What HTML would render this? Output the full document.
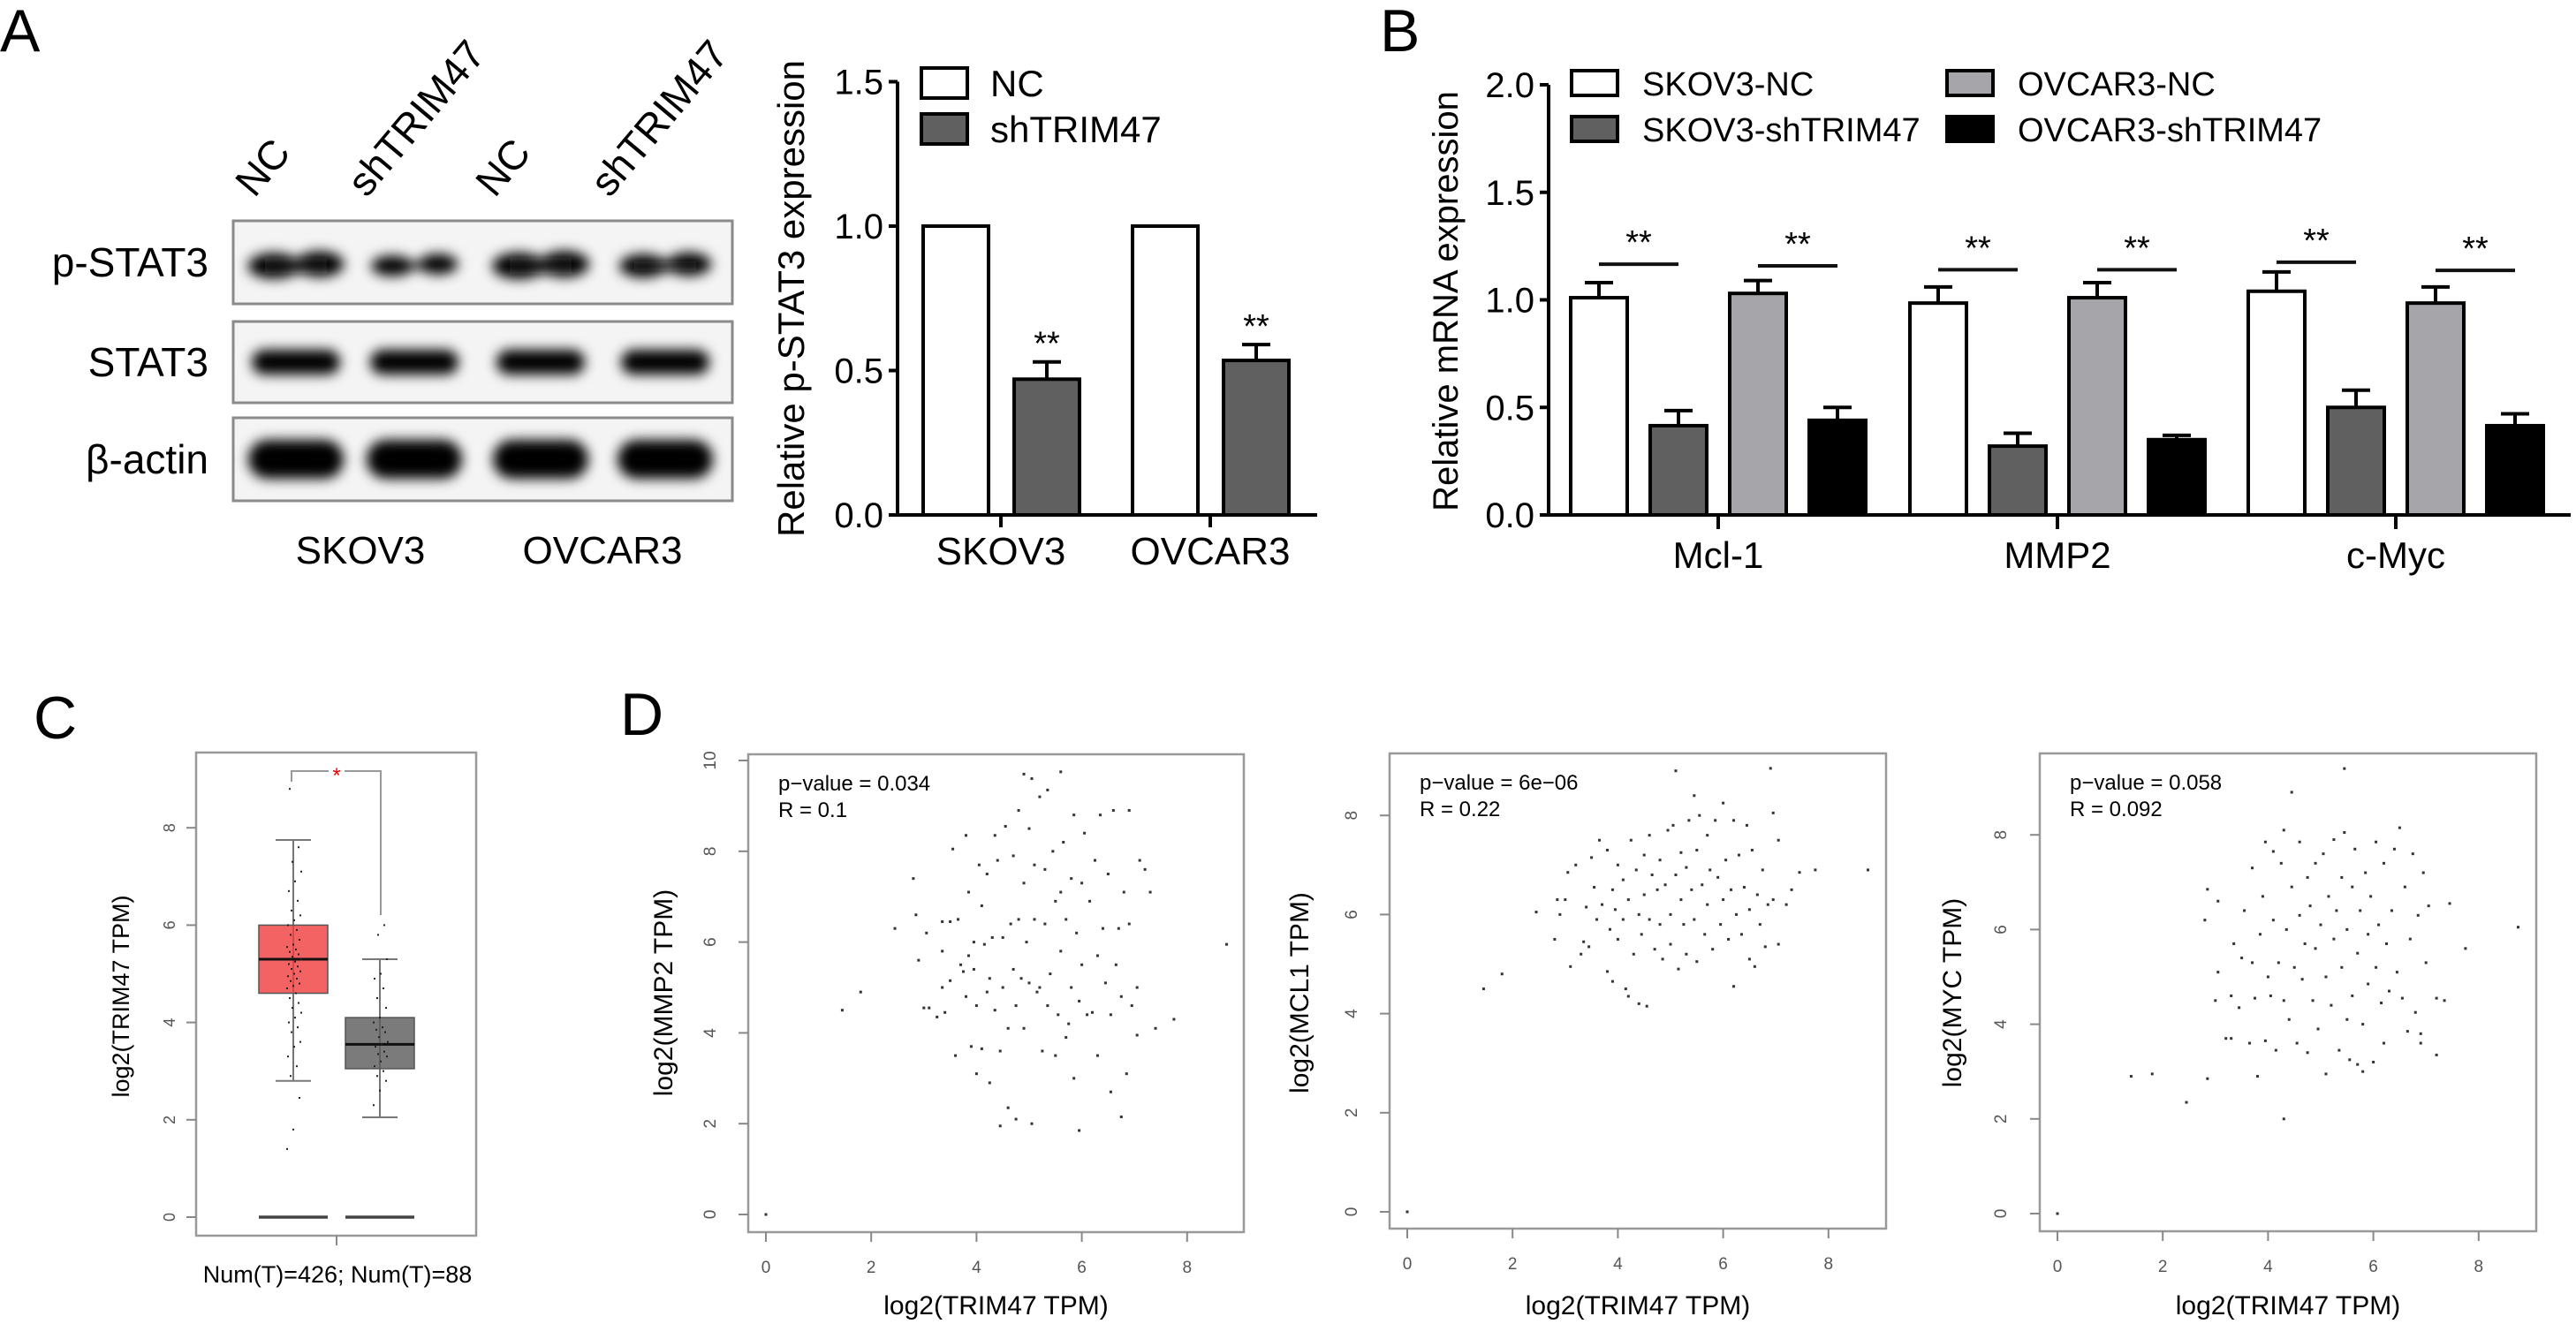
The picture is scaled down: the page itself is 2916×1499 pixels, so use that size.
<!DOCTYPE html>
<html><head><meta charset="utf-8">
<style>
html,body{margin:0;padding:0;background:#fff;}
svg{display:block;font-family:"Liberation Sans",Arial,sans-serif;}
</style></head>
<body>
<svg id="fig" width="2916" height="1499" viewBox="0 0 2916 1499" xmlns="http://www.w3.org/2000/svg">
<defs>
<filter id="blur" x="-30%" y="-80%" width="160%" height="260%"><feGaussianBlur stdDeviation="7"/></filter>
</defs>
<rect x="0" y="0" width="2916" height="1499" fill="#fff"/>
<text x="0" y="58" font-size="68">A</text>
<text x="1562" y="58" font-size="68">B</text>
<text x="38" y="836" font-size="68">C</text>
<text x="702" y="832" font-size="68">D</text>
<g id="gBlot"></g>
<g id="gA"></g>
<g id="gB"></g>
<g id="gC"></g>
<g id="gD"></g>
</svg>
<script>
// ---------- data ----------
const blotRows = ['p-STAT3','STAT3','β-actin'];
const blotLanes = ['NC','shTRIM47','NC','shTRIM47'];
const blotCells = ['SKOV3','OVCAR3'];
const bandPSTAT3 = [0.95,0.5,1.0,0.75];
const bandSTAT3 = [0.85,0.85,0.85,0.85];
const bandActin = [1.0,1.0,1.0,1.0];

const aCategories = ['SKOV3','OVCAR3'];
const aNC = [1.0,1.0];
const aSh = [0.47,0.535];
const aShErr = [0.06,0.055];
const aTicks = ['0.0','0.5','1.0','1.5'];

const bCategories = ['Mcl-1','MMP2','c-Myc'];
const bSeriesNames = ['SKOV3-NC','SKOV3-shTRIM47','OVCAR3-NC','OVCAR3-shTRIM47'];
const bSkovNC = [1.01,0.985,1.04];
const bSkovSh = [0.415,0.32,0.5];
const bOvNC = [1.03,1.01,0.985];
const bOvSh = [0.44,0.35,0.415];
const bSkovNCErr = [0.07,0.075,0.09];
const bSkovShErr = [0.07,0.06,0.08];
const bOvNCErr = [0.06,0.07,0.075];
const bOvShErr = [0.06,0.02,0.055];
const bSigSkov = [1.166,1.14,1.175];
const bSigOv = [1.158,1.14,1.137];
const bTicks = ['0.0','0.5','1.0','1.5','2.0'];

const cTumorStats = [2.8,4.6,5.3,6.0,7.75];
const cNormalStats = [2.05,3.05,3.55,4.1,5.3];
const cTumorPts = [1.4,1.8,2.45,2.9,3.1,3.3,3.5,3.6,3.8,3.9,4.0,4.1,4.2,4.3,4.4,4.5,4.6,4.7,4.75,4.8,4.85,4.9,4.95,5.0,5.05,5.1,5.15,5.2,5.25,5.3,5.35,5.4,5.45,5.5,5.55,5.6,5.7,5.8,5.9,6.0,6.1,6.2,6.3,6.5,6.7,6.9,7.1,7.3,7.6,8.8];
const cNormalPts = [2.3,2.6,2.8,2.9,3.0,3.1,3.2,3.3,3.35,3.4,3.5,3.55,3.6,3.7,3.8,3.85,3.9,4.0,4.1,4.3,4.5,4.7,4.9,5.0,5.3,5.8,6.0];
const cTicks = ['0','2','4','6','8'];

const dTitles = ['log2(MMP2 TPM)','log2(MCL1 TPM)','log2(MYC TPM)'];
const dPvals = ['p\u2212value = 0.034','p\u2212value = 6e\u221206','p\u2212value = 0.058'];
const dRvals = ['R = 0.1','R = 0.22','R = 0.092'];
const dMMP2 = [[0,0],[1.45,4.5],[1.8,4.9],[2.45,6.3],[2.8,7.4],[2.85,6.6],[2.9,5.6],[3.05,6.2],[3.0,4.55],[3.1,4.55],[3.25,4.35],[3.35,6.45],[3.35,5.8],[3.35,5.0],[3.4,4.45],[3.5,6.45],[3.5,5.15],[3.55,8.05],[3.6,3.5],[3.65,6.5],[3.7,5.5],[3.75,5.35],[3.8,4.8],[3.8,8.35],[3.85,7.1],[3.85,5.7],[3.9,3.7],[3.95,6.0],[3.95,5.4],[4.0,3.1],[4.0,4.6],[4.05,7.7],[4.1,6.8],[4.1,3.65],[4.15,5.95],[4.2,4.9],[4.2,7.5],[4.25,2.9],[4.25,5.2],[4.3,6.1],[4.35,8.35],[4.35,4.5],[4.4,7.8],[4.45,3.6],[4.45,1.95],[4.5,6.1],[4.5,5.0],[4.55,8.55],[4.6,4.1],[4.6,2.35],[4.65,6.4],[4.7,7.9],[4.7,5.4],[4.75,2.1],[4.75,4.6],[4.8,8.9],[4.8,6.5],[4.85,5.2],[4.9,9.7],[4.9,7.3],[4.9,4.1],[4.95,6.0],[5.0,8.5],[5.0,5.1],[5.05,9.6],[5.05,2.0],[5.1,7.7],[5.1,6.5],[5.15,4.9],[5.2,9.2],[5.2,5.0],[5.25,3.6],[5.3,7.6],[5.3,6.4],[5.35,9.35],[5.35,4.6],[5.4,5.3],[5.45,8.0],[5.5,3.5],[5.5,6.9],[5.55,4.4],[5.6,9.75],[5.6,7.1],[5.6,5.8],[5.65,8.2],[5.7,3.9],[5.7,6.5],[5.75,4.2],[5.8,7.4],[5.8,5.0],[5.85,8.8],[5.85,3.0],[5.9,6.2],[5.95,1.85],[5.95,4.7],[6.0,7.3],[6.0,5.5],[6.05,8.4],[6.1,4.4],[6.15,6.9],[6.2,4.45],[6.25,7.8],[6.3,3.5],[6.3,5.7],[6.35,8.8],[6.4,6.3],[6.45,5.1],[6.5,7.5],[6.55,4.4],[6.55,2.7],[6.6,8.9],[6.65,5.5],[6.7,6.3],[6.75,4.8],[6.75,2.15],[6.8,7.1],[6.85,3.1],[6.9,8.9],[6.9,6.4],[6.95,4.6],[7.05,5.0],[7.05,3.95],[7.1,7.8],[7.2,7.6],[7.3,7.1],[7.4,4.1],[7.75,4.3],[8.75,5.95]];
const dMCL1 = [[0,0],[1.45,4.5],[1.8,4.8],[2.45,6.05],[2.8,5.5],[2.85,6.3],[2.9,6.0],[3.0,6.3],[3.05,6.85],[3.1,4.95],[3.2,7.0],[3.3,5.2],[3.35,5.45],[3.4,6.15],[3.45,5.35],[3.5,7.15],[3.55,6.55],[3.6,5.9],[3.65,7.5],[3.7,6.2],[3.8,4.85],[3.8,7.3],[3.85,5.7],[3.9,4.65],[3.9,6.5],[3.95,6.1],[4.0,7.0],[4.0,5.5],[4.1,6.7],[4.1,5.9],[4.15,4.5],[4.2,6.3],[4.2,4.35],[4.25,7.5],[4.3,5.2],[4.35,6.9],[4.4,4.2],[4.4,6.0],[4.45,5.6],[4.5,7.2],[4.5,6.4],[4.55,4.15],[4.6,5.9],[4.6,7.6],[4.65,6.8],[4.7,5.3],[4.75,6.5],[4.8,7.1],[4.8,5.8],[4.85,5.1],[4.9,6.6],[4.95,7.7],[5.0,6.0],[5.0,5.4],[5.05,7.8],[5.1,8.9],[5.1,6.8],[5.15,4.9],[5.2,6.3],[5.2,7.25],[5.25,5.8],[5.3,6.95],[5.3,5.2],[5.35,7.9],[5.4,6.5],[5.45,8.4],[5.45,5.9],[5.5,7.3],[5.5,5.05],[5.55,8.0],[5.6,6.6],[5.65,5.6],[5.7,7.6],[5.7,6.2],[5.75,6.9],[5.8,5.3],[5.85,7.9],[5.9,6.75],[5.95,5.8],[6.0,8.25],[6.0,6.3],[6.05,7.1],[6.1,5.5],[6.15,6.5],[6.2,7.9],[6.2,4.55],[6.25,6.0],[6.3,7.2],[6.35,5.6],[6.4,6.55],[6.45,7.8],[6.5,6.1],[6.5,5.1],[6.55,7.3],[6.6,4.95],[6.65,6.4],[6.7,5.8],[6.75,6.9],[6.8,5.35],[6.85,6.2],[6.9,8.95],[6.95,8.05],[6.95,6.3],[7.05,5.4],[7.05,7.5],[7.2,6.2],[7.3,6.5],[7.45,6.85],[7.75,6.9],[8.75,6.9]];
const dMYC = [[0,0],[1.4,2.9],[1.8,2.95],[2.45,2.35],[2.8,6.2],[2.85,6.85],[2.85,2.85],[3.0,4.5],[3.05,6.6],[3.05,5.1],[3.2,3.7],[3.3,3.7],[3.3,4.6],[3.35,5.7],[3.45,4.35],[3.5,5.4],[3.55,6.4],[3.65,3.6],[3.7,5.3],[3.7,7.3],[3.75,4.55],[3.8,2.9],[3.85,5.9],[3.9,6.7],[3.95,3.65],[3.95,7.85],[4.0,5.0],[4.05,4.6],[4.1,7.65],[4.1,6.2],[4.15,3.45],[4.2,5.3],[4.25,7.4],[4.3,4.5],[4.3,2.0],[4.3,8.1],[4.35,6.0],[4.4,4.1],[4.45,8.9],[4.45,6.9],[4.5,5.2],[4.55,3.6],[4.6,7.85],[4.6,6.3],[4.65,4.95],[4.7,5.7],[4.75,7.1],[4.75,3.4],[4.8,6.5],[4.85,4.5],[4.9,7.4],[4.9,5.6],[4.95,3.9],[5.0,6.1],[5.05,7.6],[5.1,5.0],[5.1,2.95],[5.15,6.7],[5.2,4.4],[5.25,7.9],[5.25,5.8],[5.3,6.4],[5.35,3.45],[5.4,5.2],[5.4,7.1],[5.45,9.4],[5.45,8.05],[5.5,4.1],[5.5,6.0],[5.55,3.25],[5.6,6.9],[5.6,4.6],[5.65,7.7],[5.7,5.5],[5.7,3.15],[5.75,6.4],[5.8,4.0],[5.8,3.0],[5.85,7.2],[5.9,5.9],[5.9,4.85],[5.95,6.7],[6.0,3.2],[6.05,7.85],[6.05,5.2],[6.1,6.1],[6.15,4.45],[6.2,7.4],[6.2,3.6],[6.25,5.7],[6.3,4.7],[6.35,6.4],[6.4,7.7],[6.45,5.1],[6.5,8.15],[6.55,4.55],[6.6,6.9],[6.65,3.85],[6.7,5.8],[6.75,7.6],[6.8,4.25],[6.85,6.3],[6.9,3.6],[6.9,3.8],[6.95,7.2],[7.0,5.3],[7.05,6.5],[7.2,3.35],[7.2,4.55],[7.35,4.5],[7.45,6.55],[7.75,5.6],[8.75,6.05]];
const dXTicks = ['0','2','4','6','8'];
const dYTicks1 = ['0','2','4','6','8','10'];
const dYTicks23 = ['0','2','4','6','8'];

// ---------- helpers ----------
const NS='http://www.w3.org/2000/svg';
function mk(parent, tag, attrs, txt){
  const el=document.createElementNS(NS,tag);
  for(const k in attrs) el.setAttribute(k,attrs[k]);
  if(txt!==undefined) el.textContent=txt;
  parent.appendChild(el);
  return el;
}
const gBlot=document.getElementById('gBlot');
const gA=document.getElementById('gA');
const gB=document.getElementById('gB');
const gC=document.getElementById('gC');
const gD=document.getElementById('gD');

// ---------- Western blot ----------
const blotBoxes=[[250,344],[364,456],[473,567]];
const laneX=[335,469,612,753];
const bandSets=[bandPSTAT3,bandSTAT3,bandActin];
blotRows.forEach((name,r)=>{
  const [t,b]=blotBoxes[r];
  const box=mk(gBlot,'rect',{x:264,y:t,width:565,height:b-t,fill:'#f4f4f4',stroke:'#8a8a8a','stroke-width':3});
  
  
  const lab=mk(gBlot,'text',{x:236,y:(t+b)/2+16,'text-anchor':'end','font-size':46},name);
  
  
  bandSets[r].forEach((s,i)=>{
    const cy=(t+b)/2+ (r===0?4:(r===2?0:0));
    const h=(r===2?44:30)*(0.55+0.45*s);
    const w=(r===2?108:100);
    const band=mk(gBlot,'g',{filter:'url(#blur)'});
    
    
    if(r===0){
      mk(band,'ellipse',{cx:laneX[i]-w*0.25,cy:cy,rx:w*0.3*(0.6+0.4*s),ry:h/2,fill:'#000'});
      mk(band,'ellipse',{cx:laneX[i]+w*0.27,cy:cy-2,rx:w*0.28*(0.6+0.4*s),ry:h/2,fill:'#000'});
      mk(band,'rect',{x:laneX[i]-w*0.35,y:cy-h*0.3*s,width:w*0.7,height:h*0.6*s,fill:'#111'});
    } else {
      mk(band,'rect',{x:laneX[i]-w/2,y:cy-h/2,width:w,height:h,rx:h/2,fill:'#000'});
    }
  });
});
blotLanes.forEach((name,i)=>{
  const bx=[288,415,560,690][i];
  const t=mk(gBlot,'text',{x:bx,y:225,'font-size':46,transform:'rotate(-50 '+bx+' 225)'},name);
  
  
});
blotCells.forEach((name,i)=>{
  const t=mk(gBlot,'text',{x:[408,682][i],y:638,'text-anchor':'middle','font-size':44},name);
  
  
});

// ---------- Chart A ----------
const aY0=583, aPx=327;
function yA(v){return aY0-v*aPx;}
const aGroupX=[1133,1370];
const axA=mk(gA,'path',{d:'M1016 '+yA(1.5)+' V'+aY0+' H1491',stroke:'#000','stroke-width':4,fill:'none'});


aTicks.forEach((t,i)=>{
  const v=parseFloat(t);
  const tk=mk(gA,'line',{x1:1006,x2:1016,y1:yA(v),y2:yA(v),stroke:'#000','stroke-width':4});
  
  
  const tl=mk(gA,'text',{x:1000,y:yA(v)+14,'text-anchor':'end','font-size':40},t);
  
  
});
const aTitle=mk(gA,'text',{x:910,y:338,'text-anchor':'middle','font-size':42,transform:'rotate(-90 910 338)'},'Relative p-STAT3 expression');


aCategories.forEach((c,i)=>{
  const gx=aGroupX[i];
  const tk=mk(gA,'line',{x1:gx,x2:gx,y1:aY0,y2:aY0+14,stroke:'#000','stroke-width':4});
  
  
  const tl=mk(gA,'text',{x:gx,y:639,'text-anchor':'middle','font-size':44},c);
  
  
  const b1=mk(gA,'rect',{x:gx-88,y:yA(aNC[i]),width:74,height:aY0-yA(aNC[i]),fill:'#fff',stroke:'#000','stroke-width':4});
  
  
  const b2=mk(gA,'rect',{x:gx+15,y:yA(aSh[i]),width:74,height:aY0-yA(aSh[i]),fill:'#606060',stroke:'#000','stroke-width':4});
  
  
  const cx=gx+52, top=yA(aSh[i]+aShErr[i]);
  const e=mk(gA,'path',{d:'M'+cx+' '+yA(aSh[i])+' V'+top+' M'+(cx-16)+' '+top+' H'+(cx+16),stroke:'#000','stroke-width':4});
  
  
  const s=mk(gA,'text',{x:cx,y:top-8,'text-anchor':'middle','font-size':38},'**');
  
  
});
[['NC','#fff',77],['shTRIM47','#606060',129]].forEach(([n,f,y])=>{
  const r=mk(gA,'rect',{x:1043,y:y,width:52,height:34,fill:f,stroke:'#000','stroke-width':4});
  
  
  const t=mk(gA,'text',{x:1121,y:y+32,'font-size':42},n);
  
  
});

// ---------- Chart B ----------
const bY0=583, bPx=243.5;
function yB(v){return bY0-v*bPx;}
const bGroupX=[1945,2329,2712];
const bOff=[-135,-45,45,135];
const bFill=['#fff','#606060','#a6a6aa','#000'];
const bVals=[bSkovNC,bSkovSh,bOvNC,bOvSh];
const bErrs=[bSkovNCErr,bSkovShErr,bOvNCErr,bOvShErr];
const axB=mk(gB,'path',{d:'M1753 '+yB(2)+' V'+bY0+' H2910',stroke:'#000','stroke-width':4,fill:'none'});


bTicks.forEach(t=>{
  const v=parseFloat(t);
  const tk=mk(gB,'line',{x1:1743,x2:1753,y1:yB(v),y2:yB(v),stroke:'#000','stroke-width':4});
  
  
  const tl=mk(gB,'text',{x:1737,y:yB(v)+14,'text-anchor':'end','font-size':40},t);
  
  
});
const bTitle=mk(gB,'text',{x:1650,y:341,'text-anchor':'middle','font-size':40,transform:'rotate(-90 1650 341)'},'Relative mRNA expression');


bCategories.forEach((c,i)=>{
  const gx=bGroupX[i];
  const tk=mk(gB,'line',{x1:gx,x2:gx,y1:bY0,y2:bY0+16,stroke:'#000','stroke-width':4});
  
  
  const tl=mk(gB,'text',{x:gx,y:643,'text-anchor':'middle','font-size':42},c);
  
  
  bVals.forEach((ser,s)=>{
    const cx=gx+bOff[s], v=ser[i];
    const r=mk(gB,'rect',{x:cx-32,y:yB(v),width:64,height:bY0-yB(v),fill:bFill[s],stroke:'#000','stroke-width':4});
    
    
    const top=yB(v+bErrs[s][i]);
    const e=mk(gB,'path',{d:'M'+cx+' '+yB(v)+' V'+top+' M'+(cx-16)+' '+top+' H'+(cx+16),stroke:'#000','stroke-width':4});
    
    
  });
  [[bSigSkov[i],gx-135,gx-45],[bSigOv[i],gx+45,gx+135]].forEach(([v,x1,x2])=>{
    const l=mk(gB,'line',{x1:x1,x2:x2,y1:yB(v),y2:yB(v),stroke:'#111','stroke-width':4});
    
    
    const s=mk(gB,'text',{x:(x1+x2)/2,y:yB(v)-12,'text-anchor':'middle','font-size':38},'**');
    
    
  });
});
bSeriesNames.forEach((n,s)=>{
  const lx=[1779,1779,2204,2204][s], ly=[80,132,80,132][s];
  const r=mk(gB,'rect',{x:lx,y:ly,width:52,height:28,fill:bFill[s],stroke:'#000','stroke-width':4});
  
  
  const t=mk(gB,'text',{x:lx+80,y:ly+28,'font-size':38},n);
  
  
});

// ---------- Chart C ----------
const cY0=1378, cPx=55.1;
function yC(v){return cY0-v*cPx;}
const cFrame=mk(gC,'rect',{x:222,y:852,width:317,height:547,fill:'none',stroke:'#999','stroke-width':2.5});


cTicks.forEach(t=>{
  const v=parseFloat(t);
  const tk=mk(gC,'line',{x1:211,x2:222,y1:yC(v),y2:yC(v),stroke:'#888','stroke-width':2});
  
  
  const tl=mk(gC,'text',{x:198,y:yC(v),'text-anchor':'middle','font-size':18,fill:'#555',transform:'rotate(-90 198 '+yC(v)+')'},t);
  
  
});
const cxt=mk(gC,'line',{x1:381,x2:381,y1:1399,y2:1410,stroke:'#888','stroke-width':2});


const cTitle=mk(gC,'text',{x:146,y:1128,'text-anchor':'middle','font-size':27,transform:'rotate(-90 146 1128)'},'log2(TRIM47 TPM)');


const cX=mk(gC,'text',{x:382,y:1452,'text-anchor':'middle','font-size':27},'Num(T)=426; Num(T)=88');


[[cTumorStats,332,'rgba(240,60,60,0.8)',cTumorPts,'c-tumor'],[cNormalStats,430,'rgba(90,90,90,0.8)',cNormalPts,'c-normal']].forEach(([st,cx,fill,pts,nm])=>{
  const w=mk(gC,'path',{d:'M'+cx+' '+yC(st[0])+' V'+yC(st[4])+' M'+(cx-20)+' '+yC(st[0])+' H'+(cx+20)+' M'+(cx-20)+' '+yC(st[4])+' H'+(cx+20),stroke:'#777','stroke-width':2,fill:'none'});
  
  
  const b=mk(gC,'rect',{x:cx-39,y:yC(st[3]),width:78,height:yC(st[1])-yC(st[3]),fill:fill,stroke:'#555','stroke-width':1.5});
  
  
  const m=mk(gC,'line',{x1:cx-39,x2:cx+39,y1:yC(st[2]),y2:yC(st[2]),stroke:'#111','stroke-width':3});
  
  
  const z=mk(gC,'line',{x1:cx-39,x2:cx+39,y1:yC(0),y2:yC(0),stroke:'#444','stroke-width':3.5});
  
  
  pts.forEach((v,k)=>{
    const d=mk(gC,'rect',{x:cx-8+((k*7)%17),y:yC(v)-1,width:2,height:2,fill:'#222'});
    
    
  });
});
const br=mk(gC,'path',{d:'M330 885 V873 H372 M390 873 H431 V1036',stroke:'#999','stroke-width':2,fill:'none'});


const st=mk(gC,'text',{x:381,y:886,'text-anchor':'middle','font-size':24,fill:'#e00'},'*');



// ---------- Charts D ----------
const dPanels=[
 {data:dMMP2, frame:[847,854,1408,1395], x0:867, y0:1375, yu:51.4, yt:dYTicks1, ytx:810, titleX:761},
 {data:dMCL1, frame:[1573,853,2135,1391], x0:1593, y0:1372, yu:56.1, yt:dYTicks23, ytx:1536, titleX:1481},
 {data:dMYC, frame:[2309,853,2871,1394], x0:2329, y0:1374, yu:53.6, yt:dYTicks23, ytx:2271, titleX:2220}
];
const dXu=59.6;
dPanels.forEach((p,i)=>{
  const fx=p=>0;
  const xs=v=>p.x0+v*dXu, ys=v=>p.y0-v*p.yu;
  const [l,t,r,b]=p.frame;
  const fr=mk(gD,'rect',{x:l,y:t,width:r-l,height:b-t,fill:'none',stroke:'#999','stroke-width':2.5});
  
  
  dXTicks.forEach(tk=>{
    const v=parseFloat(tk);
    const ln=mk(gD,'line',{x1:xs(v),x2:xs(v),y1:b,y2:b+11,stroke:'#888','stroke-width':2});
    
    
    const tx=mk(gD,'text',{x:xs(v),y:b+46,'text-anchor':'middle','font-size':19,fill:'#555'},tk);
    
    
  });
  p.yt.forEach(tk=>{
    const v=parseFloat(tk);
    const ln=mk(gD,'line',{x1:l-11,x2:l,y1:ys(v),y2:ys(v),stroke:'#888','stroke-width':2});
    
    
    const tx=mk(gD,'text',{x:p.ytx,y:ys(v),'text-anchor':'middle','font-size':19,fill:'#555',transform:'rotate(-90 '+p.ytx+' '+ys(v)+')'},tk);
    
    
  });
  const xt=mk(gD,'text',{x:(l+r)/2,y:1488,'text-anchor':'middle','font-size':30},'log2(TRIM47 TPM)');
  
  
  const yt=mk(gD,'text',{x:p.titleX,y:1124,'text-anchor':'middle','font-size':30,transform:'rotate(-90 '+p.titleX+' 1124)'},dTitles[i]);
  
  
  const pv=mk(gD,'text',{x:l+34,y:t+41,'font-size':24},dPvals[i]);
  
  
  const rv=mk(gD,'text',{x:l+34,y:t+71,'font-size':24},dRvals[i]);
  
  
  p.data.forEach(([x,y])=>{
    const d=mk(gD,'rect',{x:xs(x)-1.5,y:ys(y)-1.5,width:3,height:3,fill:'#333'});
    
    
  });
});
</script>
</body></html>
